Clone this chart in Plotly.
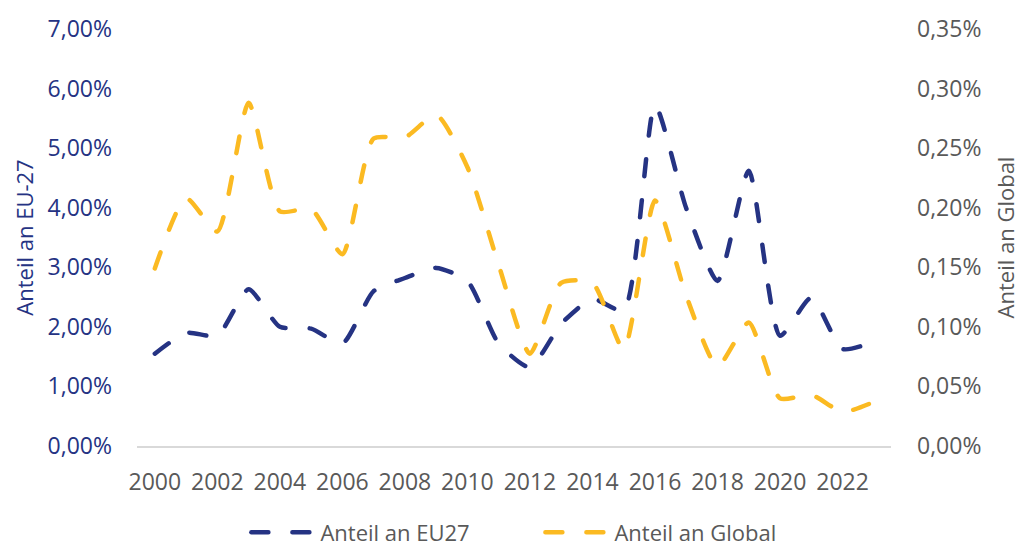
import plotly.graph_objects as go

years = list(range(2000, 2024))
anteil_eu27 = [1.55, 1.90, 1.85, 2.63, 2.00, 1.97, 1.72, 2.60, 2.82, 2.99, 2.77, 1.72,
               1.32, 2.05, 2.47, 2.27, 5.72, 3.99, 2.77, 4.62, 1.85, 2.49, 1.63, 1.75]
anteil_global = [0.149, 0.208, 0.180, 0.288, 0.197, 0.199, 0.161, 0.258, 0.259, 0.278, 0.234, 0.152,
                 0.0775, 0.137, 0.137, 0.081, 0.206, 0.126, 0.0667, 0.1036, 0.040, 0.043, 0.0286, 0.037]
x_ticks = list(range(2000, 2023, 2))
left_ticks = [0, 1, 2, 3, 4, 5, 6, 7]
left_labels = ["0,00%", "1,00%", "2,00%", "3,00%", "4,00%", "5,00%", "6,00%", "7,00%"]
right_ticks = [0, 0.05, 0.10, 0.15, 0.20, 0.25, 0.30, 0.35]
right_labels = ["0,00%", "0,05%", "0,10%", "0,15%", "0,20%", "0,25%", "0,30%", "0,35%"]

NAVY = "#253383"
YELLOW = "#FBBA22"
GREY = "#595959"
FONT = "Open Sans"

fig = go.Figure()
fig.add_trace(go.Scatter(
    x=years, y=anteil_eu27, name="Anteil an EU27", mode="lines",
    line=dict(color=NAVY, width=4.5, dash="17px,24px", shape="spline", smoothing=0.6),
    yaxis="y"))
fig.add_trace(go.Scatter(
    x=years, y=anteil_global, name="Anteil an Global", mode="lines",
    line=dict(color=YELLOW, width=4.5, dash="17px,24px", shape="spline", smoothing=0.6),
    yaxis="y2"))

fig.update_layout(
    width=1031, height=549,
    margin=dict(l=137, r=140, t=26, b=103),
    paper_bgcolor="white", plot_bgcolor="white",
    font=dict(family=FONT, size=22, color=GREY),
    showlegend=True,
    legend=dict(orientation="h", x=0.535, xanchor="center", yref="container", y=0.03,
                yanchor="middle", font=dict(size=22, color=GREY), itemwidth=64,
                entrywidth=215, entrywidthmode="pixels", traceorder="normal"),
    xaxis=dict(range=[1999.43, 2023.55], tickmode="array", tickvals=x_ticks,
               ticktext=[str(v) for v in x_ticks], showgrid=False, zeroline=False,
               showline=True, linecolor="#D9D9D9", linewidth=1.5, ticks="",
               ticklabelstandoff=15, tickfont=dict(size=23, color=GREY)),
    yaxis=dict(range=[0, 7], tickmode="array", tickvals=left_ticks, ticktext=left_labels,
               showgrid=False, zeroline=False, showline=False,
               ticklabelstandoff=24, tickfont=dict(size=23, color=NAVY),
               title=dict(text="Anteil an EU-27", font=dict(size=22, color=NAVY), standoff=7)),
    yaxis2=dict(range=[0, 0.35], overlaying="y", side="right", tickmode="array",
                tickvals=right_ticks, ticktext=right_labels, showgrid=False,
                zeroline=False, showline=False, ticklabelstandoff=25,
                tickfont=dict(size=23, color=GREY),
                title=dict(text="Anteil an Global", font=dict(size=22, color=GREY), standoff=18)),
)

post = """
var gd = document.getElementById('{plot_id}');
document.body.style.margin = '0';
function rc(){
  gd.querySelectorAll('.scatterlayer .js-line, .legend .js-line').forEach(function(p){
    p.style.strokeLinecap = 'round';
  });
}
rc();
gd.on('plotly_afterplot', rc);
"""

fig.write_html("out.html", post_script=post, config={"displayModeBar": False})
